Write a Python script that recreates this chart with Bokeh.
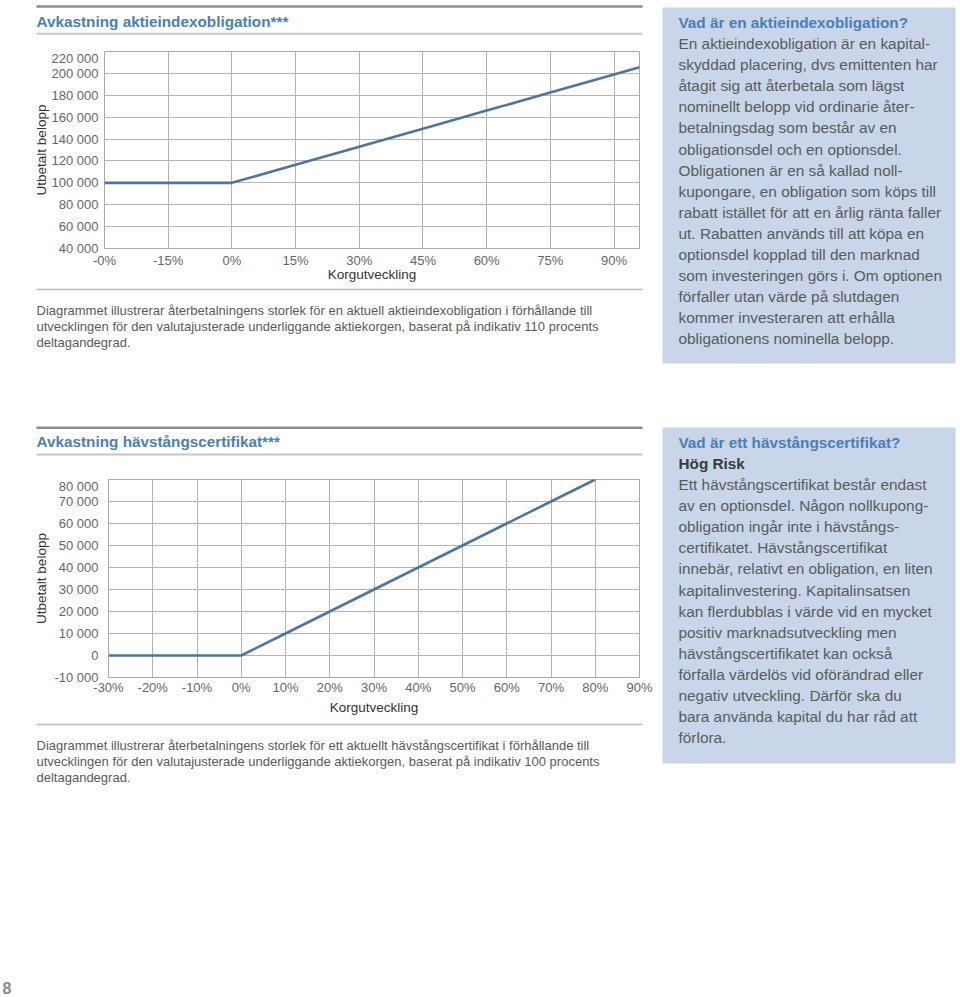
from bokeh.plotting import figure
from bokeh.models import Range1d, FixedTicker
from bokeh.layouts import row, column
from bokeh.embed import file_html
from bokeh.resources import INLINE
from bokeh.core.properties import value

FONT = "Liberation Sans"
BLUE_TITLE = "#4a7fb6"
LINE_BLUE = "#4b75a2"
BOX_BG = "#c9d6e9"
TEXT_GRAY = "#5a5a5a"
GRID = "#b3b3b3"

# ---------------- data: chart 1 (aktieindexobligation) ----------------
c1_title = "Avkastning aktieindexobligation***"
c1_x = [-30, -15, 0, 15, 30, 45, 60, 75, 90, 96]
c1_y = [100000, 100000, 100000, 116500, 133000, 149500, 166000, 182500, 199000, 205600]
c1_xticks = [-30, -15, 0, 15, 30, 45, 60, 75, 90]
c1_xtick_labels = ["-0%", "-15%", "0%", "15%", "30%", "45%", "60%", "75%", "90%"]
c1_yticks = [40000, 60000, 80000, 100000, 120000, 140000, 160000, 180000, 200000, 220000]
c1_ytick_labels = ["40 000", "60 000", "80 000", "100 000", "120 000", "140 000",
                   "160 000", "180 000", "200 000", "220 000"]
c1_caption = [
    "Diagrammet illustrerar återbetalningens storlek för en aktuell aktieindexobligation i förhållande till",
    "utvecklingen för den valutajusterade underliggande aktiekorgen, baserat på indikativ 110 procents",
    "deltagandegrad.",
]

# ---------------- data: chart 2 (hävstångscertifikat) ----------------
c2_title = "Avkastning hävstångscertifikat***"
c2_x = [-30, -20, -10, 0, 10, 20, 30, 40, 50, 60, 70, 80]
c2_y = [0, 0, 0, 0, 10000, 20000, 30000, 40000, 50000, 60000, 70000, 80000]
c2_xticks = [-30, -20, -10, 0, 10, 20, 30, 40, 50, 60, 70, 80, 90]
c2_xtick_labels = ["-30%", "-20%", "-10%", "0%", "10%", "20%", "30%", "40%", "50%",
                   "60%", "70%", "80%", "90%"]
c2_yticks = [-10000, 0, 10000, 20000, 30000, 40000, 50000, 60000, 70000, 80000]
c2_ytick_labels = ["-10 000", "0", "10 000", "20 000", "30 000", "40 000", "50 000",
                   "60 000", "70 000", "80 000"]
c2_caption = [
    "Diagrammet illustrerar återbetalningens storlek för ett aktuellt hävstångscertifikat i förhållande till",
    "utvecklingen för den valutajusterade underliggande aktiekorgen, baserat på indikativ 100 procents",
    "deltagandegrad.",
]

x_axis_label = "Korgutveckling"
y_axis_label = "Utbetalt belopp"

# ---------------- text boxes ----------------
box1_title = "Vad är en aktieindexobligation?"
box1_lines = [
    "En aktieindexobligation är en kapital-",
    "skyddad placering, dvs emittenten har",
    "åtagit sig att återbetala som lägst",
    "nominellt belopp vid ordinarie åter-",
    "betalningsdag som består av en",
    "obligationsdel och en optionsdel.",
    "Obligationen är en så kallad noll-",
    "kupongare, en obligation som köps till",
    "rabatt istället för att en årlig ränta faller",
    "ut. Rabatten används till att köpa en",
    "optionsdel kopplad till den marknad",
    "som investeringen görs i. Om optionen",
    "förfaller utan värde på slutdagen",
    "kommer investeraren att erhålla",
    "obligationens nominella belopp.",
]
box2_title = "Vad är ett hävstångscertifikat?"
box2_subtitle = "Hög Risk"
box2_lines = [
    "Ett hävstångscertifikat består endast",
    "av en optionsdel. Någon nollkupong-",
    "obligation ingår inte i hävstångs-",
    "certifikatet. Hävstångscertifikat",
    "innebär, relativt en obligation, en liten",
    "kapitalinvestering. Kapitalinsatsen",
    "kan flerdubblas i värde vid en mycket",
    "positiv marknadsutveckling men",
    "hävstångscertifikatet kan också",
    "förfalla värdelös vid oförändrad eller",
    "negativ utveckling. Därför ska du",
    "bara använda kapital du har råd att",
    "förlora.",
]
page_number = "8"


def no_align(p):
    if "frame_align" in p.properties():
        p.frame_align = False
    return p


def canvas(x0, x1, y0, y1):
    p = figure(width=int(x1 - x0), height=int(y1 - y0),
               x_range=Range1d(x0, x1), y_range=Range1d(y1, y0),
               output_backend="svg", toolbar_location=None,
               x_axis_type=None, y_axis_type=None, min_border=0,
               outline_line_color=None, background_fill_color="white",
               border_fill_color="white")
    return no_align(p)


def txt(p, x, ys, texts, size, color, bold=False):
    p.text(x=[x] * len(texts), y=ys, text=texts, text_font=value(FONT),
           text_font_size=size, text_color=color, text_baseline="middle",
           text_align="left", text_font_style="bold" if bold else "normal")


def header(p, y_thick, y_title, y_thin, title):
    p.segment(x0=[36], y0=[y_thick], x1=[642], y1=[y_thick], line_color="#8d8d8d", line_width=2.5)
    p.segment(x0=[36], y0=[y_thin], x1=[642], y1=[y_thin], line_color="#c6c6c6", line_width=2)
    txt(p, 36, [y_title], [title], "15.3px", BLUE_TITLE, bold=True)


def caption(p, y_sep, lines):
    p.segment(x0=[36], y0=[y_sep], x1=[642], y1=[y_sep], line_color="#bdbdbd", line_width=1.5)
    txt(p, 36, [y_sep + 21 + 16.2 * i for i in range(len(lines))], lines, "13px", TEXT_GRAY)


def chart(xs, ys, xr, yr, xt, xtl, yt, ytl, height, mbl, mbb, xls, xas, yls, yas):
    p = figure(width=660, height=height, x_range=Range1d(*xr), y_range=Range1d(*yr),
               output_backend="svg", toolbar_location=None,
               min_border_left=mbl, min_border_right=21, min_border_top=1,
               min_border_bottom=mbb, outline_line_color="#a9a9a9",
               background_fill_color="white", border_fill_color="white")
    no_align(p)
    p.xaxis.ticker = FixedTicker(ticks=xt)
    p.yaxis.ticker = FixedTicker(ticks=yt)
    p.xaxis.major_label_overrides = dict(zip(xt, xtl))
    p.yaxis.major_label_overrides = dict(zip(yt, ytl))
    for ax in (p.xaxis, p.yaxis):
        ax.axis_line_color = None
        ax.major_tick_line_color = None
        ax.minor_tick_line_color = None
        ax.major_tick_out = 0
        ax.major_tick_in = 0
        ax.major_label_text_font = FONT
        ax.major_label_text_font_size = "13px"
        ax.major_label_text_color = "#666666"
        ax.axis_label_text_font = FONT
        ax.axis_label_text_font_size = "13.5px"
        ax.axis_label_text_font_style = "normal"
        ax.axis_label_text_color = "#333333"
    p.xaxis.axis_label = x_axis_label
    p.yaxis.axis_label = y_axis_label
    p.xaxis.major_label_standoff = xls
    p.xaxis.axis_label_standoff = xas
    p.yaxis.major_label_standoff = yls
    p.yaxis.axis_label_standoff = yas
    p.xgrid.grid_line_color = GRID
    p.ygrid.grid_line_color = GRID
    p.xgrid.grid_line_width = 1
    p.ygrid.grid_line_width = 1
    p.line(xs, ys, line_color=LINE_BLUE, line_width=2.6)
    return p


# ---------------- left column (page x 0..660) ----------------
hdr1 = canvas(0, 660, 0, 50)
header(hdr1, 6, 20.5, 33.3, c1_title)

chart1 = chart(c1_x, c1_y, (-30, 96), (40000, 220000), c1_xticks, c1_xtick_labels,
               c1_yticks, c1_ytick_labels, 234, 104, 36, 4, -4, 6, 0)

mid = canvas(0, 660, 284, 478)
caption(mid, 289, c1_caption)
header(mid, 427.3, 440.7, 454, c2_title)

chart2 = chart(c2_x, c2_y, (-30, 90), (-10000, 80000), c2_xticks, c2_xtick_labels,
               c2_yticks, c2_ytick_labels, 240, 108, 41, 2, 2, 10, 2)

bottom = canvas(0, 660, 718, 995)
caption(bottom, 724, c2_caption)
bottom.text(x=[2], y=[987], text=[page_number], text_font=value(FONT), text_font_size="16px",
            text_color="#8a8a8a", text_font_style="bold", text_baseline="middle")

left = column(hdr1, chart1, mid, chart2, bottom, spacing=0)

# ---------------- right column (page x 660..958) ----------------
right = canvas(660, 958, 0, 995)
right.quad(left=[662, 662], right=[955, 955], top=[7, 427], bottom=[363, 763],
           fill_color=BOX_BG, line_color=None)
txt(right, 678, [22], [box1_title], "15.3px", BLUE_TITLE, bold=True)
txt(right, 678, [43 + 21.1 * i for i in range(len(box1_lines))], box1_lines, "15.4px", TEXT_GRAY)
txt(right, 678, [442], [box2_title], "15.3px", BLUE_TITLE, bold=True)
txt(right, 678, [463], [box2_subtitle], "15.3px", "#3a3a3a", bold=True)
txt(right, 678, [484 + 21.1 * i for i in range(len(box2_lines))], box2_lines, "15.4px", TEXT_GRAY)

page = row(left, right, spacing=0)

with open("out.html", "w") as f:
    f.write(file_html(page, INLINE))
